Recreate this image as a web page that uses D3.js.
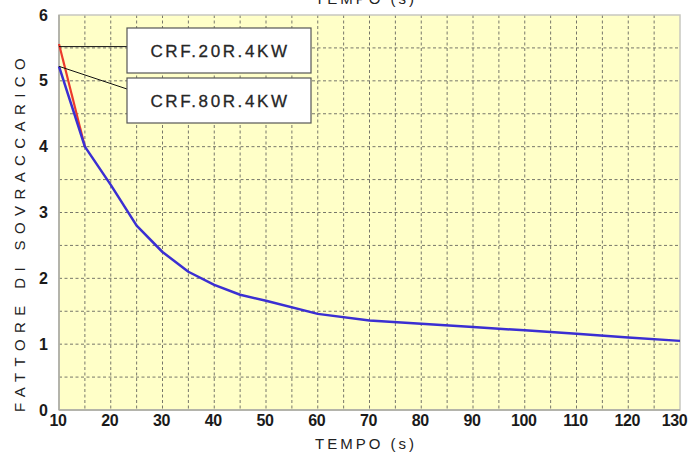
<!DOCTYPE html>
<html><head><meta charset="utf-8">
<script src="https://cdn.jsdelivr.net/npm/d3@7"></script>
<style>body{margin:0;background:#fff}svg{display:block}</style>
</head><body>
<svg id="c" width="691" height="457"></svg>
<script>
const xTicks = [10,20,30,40,50,60,70,80,90,100,110,120,130];
const yTicks = [0,1,2,3,4,5,6];
const blueX = [10,15,20,25,30,35,40,45,50,60,70,80,90,100,110,120,130];
const blueY = [5.22,4.0,3.42,2.8,2.4,2.1,1.9,1.75,1.66,1.46,1.36,1.31,1.26,1.21,1.16,1.1,1.05];
const redX = [10,15];
const redY = [5.56,4.0];
const labels = ["CRF.20R.4KW","CRF.80R.4KW"];
const labelAnchorY = [5.52,5.22];
const xTitle = "TEMPO (s)";
const yTitle = "FATTORE DI SOVRACCARICO";

const svg = d3.select("#c");
const L=59,R=680,T=15,B=410;
const x = d3.scaleLinear().domain([10,130]).range([L,R]);
const y = d3.scaleLinear().domain([0,6]).range([B,T]);
const FF = "Liberation Sans, Arial, sans-serif";

svg.append("rect").attr("x",L).attr("y",T).attr("width",R-L).attr("height",B-T).attr("fill","#ffffc8");

const g = svg.append("g");
g.selectAll(".vg").data(d3.range(15,130,5)).join("line")
 .attr("x1",d=>x(d)).attr("x2",d=>x(d)).attr("y1",T).attr("y2",B)
 .attr("stroke","#77776a").attr("stroke-width",1).attr("stroke-dasharray","3,2.5");
g.selectAll(".hg").data(d3.range(0.5,6,0.5)).join("line")
 .attr("x1",L).attr("x2",R).attr("y1",d=>y(d)).attr("y2",d=>y(d))
 .attr("stroke","#77776a").attr("stroke-width",1).attr("stroke-dasharray","3,2.5");

// border
svg.append("rect").attr("x",L).attr("y",T).attr("width",R-L).attr("height",B-T)
 .attr("fill","none").attr("stroke","#c8c8c0").attr("stroke-width",1.5);
svg.append("line").attr("x1",L).attr("x2",L).attr("y1",T).attr("y2",B).attr("stroke","#a8a8a0").attr("stroke-width",1.5);
svg.append("line").attr("x1",L).attr("x2",R).attr("y1",B).attr("y2",B).attr("stroke","#a8a8a0").attr("stroke-width",1.5);

// axes
const xa = svg.append("g").attr("transform",`translate(0,${B})`)
 .call(d3.axisBottom(x).tickValues(xTicks).tickFormat(d3.format("d")).tickSize(0).tickPadding(5));
xa.select(".domain").remove();
xa.selectAll("text").attr("font-family",FF).attr("font-weight","bold")
 .attr("font-size",16).attr("letter-spacing","-0.4px").attr("fill","#1a1a1a").attr("dy","0.71em")
 .attr("dx",d=>d===130?"-6":"-1.5");
const ya = svg.append("g").attr("transform",`translate(${L},0)`)
 .call(d3.axisLeft(y).tickValues(yTicks).tickFormat(d3.format("d")).tickSize(0).tickPadding(11));
ya.select(".domain").remove();
ya.selectAll("text").attr("font-family",FF).attr("font-weight","bold")
 .attr("font-size",16).attr("fill","#1a1a1a");

// lines
const line = d3.line().x(d=>x(d[0])).y(d=>y(d[1]));
svg.append("path").datum(redX.map((v,i)=>[v,redY[i]])).attr("d",line)
 .attr("fill","none").attr("stroke","#ec3a2c").attr("stroke-width",2.2);
svg.append("path").datum(blueX.map((v,i)=>[v,blueY[i]])).attr("d",line)
 .attr("fill","none").attr("stroke","#3b2fd2").attr("stroke-width",2.5).attr("stroke-linejoin","round");

// labels
const boxX=127, boxW=184, boxH=45, boxY=[28,78];
labels.forEach((t,i)=>{
  svg.append("line").attr("x1",L).attr("y1",y(labelAnchorY[i])).attr("x2",boxX).attr("y2",i===0?y(labelAnchorY[i]):boxY[i]+11)
    .attr("stroke","#111").attr("stroke-width",1);
  svg.append("rect").attr("x",boxX).attr("y",boxY[i]).attr("width",boxW).attr("height",boxH)
    .attr("fill","#fff").attr("stroke","#555").attr("stroke-width",1.2);
  svg.append("text").attr("x",boxX+boxW/2+1).attr("y",boxY[i]+boxH/2+6).attr("text-anchor","middle")
    .attr("font-family",FF).attr("font-size",17).attr("letter-spacing","2.6px")
    .attr("fill","#262626").attr("stroke","#262626").attr("stroke-width",0.3).text(t);
});

// titles
svg.append("text").attr("x",366).attr("y",449).attr("text-anchor","middle")
 .attr("font-family",FF).attr("font-size",15).attr("letter-spacing","3px").attr("fill","#222").text(xTitle);
svg.append("text").attr("x",366).attr("y",4).attr("text-anchor","middle")
 .attr("font-family",FF).attr("font-size",15).attr("letter-spacing","3px").attr("fill","#222").text(xTitle);
svg.append("text").attr("transform","translate(25,232) rotate(-90)").attr("text-anchor","middle")
 .attr("font-family",FF).attr("font-size",15).attr("letter-spacing","6.4px").attr("fill","#222").text(yTitle);
</script>
</body></html>
